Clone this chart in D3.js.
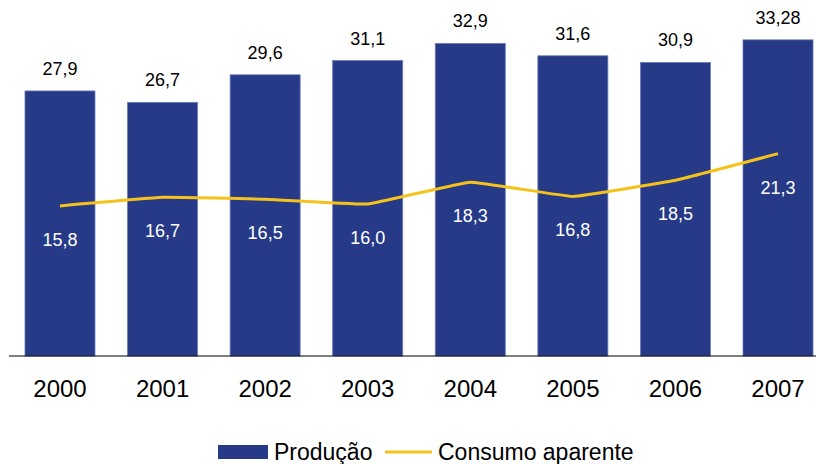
<!DOCTYPE html>
<html>
<head>
<meta charset="utf-8">
<script src="https://cdn.jsdelivr.net/npm/d3@7"></script>
<style>
  html, body { margin: 0; padding: 0; background: #fff; }
  svg { display: block; font-family: "Liberation Sans", Arial, sans-serif; }
</style>
</head>
<body>
<svg id="chart" width="816" height="464"></svg>
<script>
// Production vs apparent consumption by year
const years = ["2000", "2001", "2002", "2003", "2004", "2005", "2006", "2007"];
const producao = [27.9, 26.7, 29.6, 31.1, 32.9, 31.6, 30.9, 33.28];
const consumo = [15.8, 16.7, 16.5, 16.0, 18.3, 16.8, 18.5, 21.3];
const producaoLabels = ["27,9", "26,7", "29,6", "31,1", "32,9", "31,6", "30,9", "33,28"];
const consumoLabels = ["15,8", "16,7", "16,5", "16,0", "18,3", "16,8", "18,5", "21,3"];

const barColor = "#263a87";
const lineColor = "#f5c21b";

const svg = d3.select("#chart");
const baseline = 356;

const x = d3.scaleBand()
  .domain(years)
  .range([8.7, 829.3])
  .paddingInner(0.3175)
  .paddingOuter(0.15875);

const y = d3.scaleLinear()
  .domain([0, baseline / 9.5])
  .range([baseline, 0]);

// Bars
svg.append("g").selectAll("rect")
  .data(years)
  .join("rect")
  .attr("x", d => x(d))
  .attr("y", (d, i) => y(producao[i]))
  .attr("width", x.bandwidth())
  .attr("height", (d, i) => baseline - y(producao[i]))
  .attr("fill", barColor)
  .attr("stroke", "#6a7bb8")
  .attr("stroke-width", 0.8);

// Value labels above bars
svg.append("g").selectAll("text")
  .data(years)
  .join("text")
  .attr("x", d => x(d) + x.bandwidth() / 2)
  .attr("y", (d, i) => y(producao[i]) - 16)
  .attr("text-anchor", "middle")
  .attr("font-size", 18)
  .attr("fill", "#000")
  .text((d, i) => producaoLabels[i]);

// Baseline axis
const xAxis = d3.axisBottom(x).tickSize(0).tickPadding(24);
const axisG = svg.append("g")
  .attr("transform", `translate(0,${baseline})`)
  .call(xAxis);
axisG.select(".domain").remove();
axisG.append("line")
  .attr("x1", 9).attr("x2", 816)
  .attr("y1", 0).attr("y2", 0)
  .attr("stroke", "#000").attr("stroke-width", 1.2);
axisG.selectAll(".tick text")
  .attr("font-size", 24)
  .attr("font-family", "Liberation Sans, Arial, sans-serif")
  .attr("fill", "#000");

// Consumption line (lightly smoothed)
const line = d3.line()
  .x((d, i) => x(years[i]) + x.bandwidth() / 2)
  .y(d => y(d))
  .curve(d3.curveCardinal.tension(0.75));

svg.append("path")
  .datum(consumo)
  .attr("d", line)
  .attr("fill", "none")
  .attr("stroke", lineColor)
  .attr("stroke-width", 3);

// Consumption labels inside bars
svg.append("g").selectAll("text")
  .data(years)
  .join("text")
  .attr("x", d => x(d) + x.bandwidth() / 2)
  .attr("y", (d, i) => y(consumo[i]) + 40)
  .attr("text-anchor", "middle")
  .attr("font-size", 18)
  .attr("fill", "#fff")
  .text((d, i) => consumoLabels[i]);

// Legend
const legend = svg.append("g");
legend.append("rect")
  .attr("x", 218).attr("y", 445)
  .attr("width", 50).attr("height", 14)
  .attr("fill", barColor);
legend.append("text")
  .attr("x", 274).attr("y", 460)
  .attr("font-size", 23)
  .attr("fill", "#000")
  .text("Produção");
legend.append("line")
  .attr("x1", 385).attr("x2", 432)
  .attr("y1", 452).attr("y2", 452)
  .attr("stroke", lineColor)
  .attr("stroke-width", 3);
legend.append("text")
  .attr("x", 438).attr("y", 460)
  .attr("font-size", 23)
  .attr("fill", "#000")
  .text("Consumo aparente");
</script>
</body>
</html>
